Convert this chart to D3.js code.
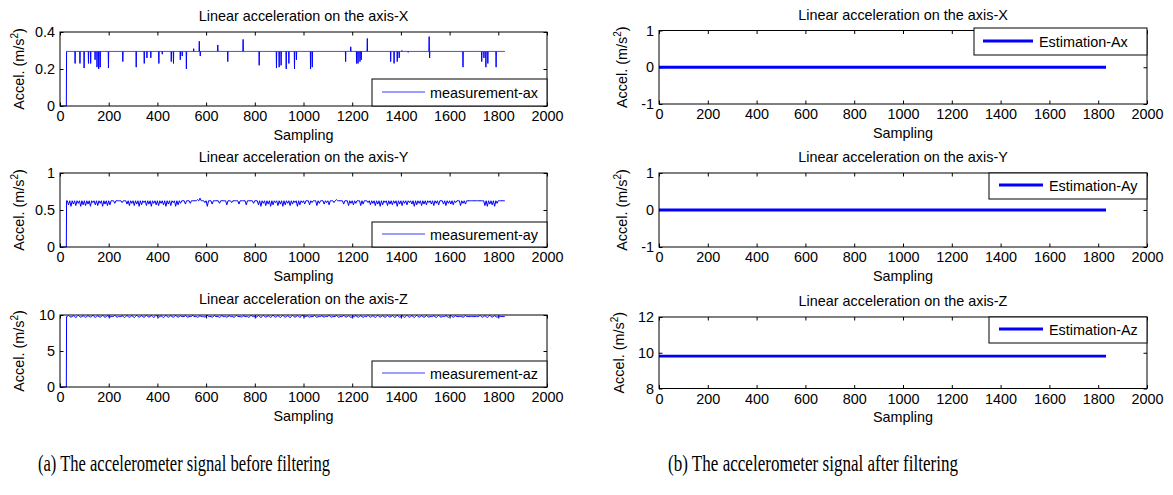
<!DOCTYPE html>
<html>
<head>
<meta charset="utf-8">
<script src="https://d3js.org/d3.v7.min.js"></script>
<style>
  body { margin: 0; background: #fff; }
  #fig text { font-family: "Liberation Sans", Arial, sans-serif; font-size: 14.4px; fill: #000; }
  #fig text.caption { font-family: "Liberation Serif", "Times New Roman", serif; font-size: 23px; }
</style>
</head>
<body>
<svg id="fig" width="1173" height="495"></svg>
<script>
// ---- data ----
var nSamples = 1828;      // last sample drawn on the left
var startIdx = 27;        // signal is 0 before this sample
var xTicks = [0, 200, 400, 600, 800, 1000, 1200, 1400, 1600, 1800, 2000];

// ax: flat level with single-sample spikes [sample, value]
var axBase = 0.295;
var axSpikes = [[62,.23],[82,.23],[99,.205],[117,.23],[126,.23],[144,.25],[152,.21],[159,.2],[165,.21],
  [199,.205],[258,.24],[313,.21],[346,.23],[357,.26],[373,.26],[406,.23],[420,.28],[457,.24],[466,.23],
  [494,.25],[502,.27],[519,.2],[549,.31],[572,.35],[576,.27],[648,.33],[689,.24],[752,.36],[818,.22],
  [889,.205],[900,.21],[908,.22],[929,.2],[940,.23],[963,.2],[971,.25],[1029,.2],[1036,.21],[1173,.24],
  [1194,.32],[1218,.23],[1224,.23],[1232,.24],[1237,.25],[1262,.365],[1358,.24],[1372,.23],[1385,.24],
  [1393,.26],[1404,.3],[1430,.29],[1516,.375],[1518,.26],[1655,.21],[1732,.24],[1741,.26],[1749,.21],
  [1757,.23],[1791,.21]];

// ay: level 0.625, one dip per 10-sample bin (bin min)
var ayBase = 0.625;
var ayBins = [
  0,0,0,.57,.55,.58,.56,.59,.55,.57,
  .56,.58,.55,.6,.57,.56,.59,.55,.58,.56,
  .57,.625,.59,.625,.625,.6,.625,.58,.56,.59,
  .56,.58,.55,.57,.6,.56,.58,.55,.59,.57,
  .56,.59,.57,.55,.58,.56,.6,.55,.57,.59,
  .625,.58,.625,.59,.625,.625,.64,.66,.625,.6,
  .55,.625,.58,.625,.625,.59,.625,.625,.57,.625,
  .6,.625,.625,.58,.625,.625,.57,.625,.625,.59,
  .625,.57,.55,.59,.56,.58,.55,.57,.6,.56,
  .58,.55,.57,.59,.56,.58,.6,.55,.57,.6,
  .58,.625,.57,.6,.625,.56,.59,.625,.58,.6,
  .57,.625,.6,.64,.625,.625,.58,.625,.56,.59,
  .57,.59,.625,.56,.58,.625,.6,.57,.59,.56,
  .58,.55,.57,.6,.56,.58,.57,.59,.55,.58,
  .56,.59,.57,.6,.58,.55,.57,.59,.56,.58,
  .57,.6,.58,.56,.59,.57,.625,.58,.56,.59,
  .58,.57,.6,.625,.56,.59,.58,.625,.625,.625,
  .625,.625,.625,.625,.56,.55,.58,.57,.55,.59,
  .625,.625,.625];

// az: level 9.78, one value per 10-sample bin
var azBase = 9.78;
var azBins = [
  0,0,0,9.95,9.7,9.9,9.65,9.95,9.7,9.9,
  9.68,9.92,9.72,9.98,9.66,9.9,9.7,9.96,9.68,9.9,
  9.72,9.78,9.95,9.7,9.78,9.9,9.66,9.94,9.7,9.92,
  9.65,9.96,9.7,9.9,9.68,9.98,9.72,9.92,9.66,9.95,
  9.7,9.9,9.64,9.96,9.7,9.92,9.68,9.97,9.7,9.9,
  9.78,9.92,9.7,9.78,9.95,9.78,9.68,9.9,9.78,9.72,
  9.96,9.78,9.7,9.92,9.78,9.68,9.94,9.78,9.7,9.9,
  9.78,9.66,9.95,9.78,9.72,9.9,9.78,9.68,9.96,9.78,
  9.7,9.92,9.66,9.95,9.7,9.9,9.68,9.98,9.7,9.92,
  9.66,9.96,9.7,9.9,9.64,9.95,9.7,9.92,9.68,9.96,
  9.78,9.9,9.7,9.78,9.94,9.68,9.78,9.9,9.72,9.78,
  9.95,9.7,9.78,9.92,9.68,9.78,9.96,9.7,9.9,9.66,
  9.78,9.94,9.7,9.9,9.68,9.78,9.95,9.7,9.92,9.66,
  9.96,9.7,9.9,9.68,9.95,9.72,9.92,9.66,9.98,9.7,
  9.9,9.68,9.95,9.7,9.92,9.66,9.96,9.7,9.9,9.68,
  9.94,9.7,9.78,9.9,9.66,9.95,9.7,9.78,9.92,9.68,
  9.96,9.7,9.9,9.78,9.78,9.68,9.94,9.78,9.78,9.78,
  9.78,9.78,9.95,9.7,9.92,9.66,9.96,9.7,9.9,9.68,
  9.78,9.78,9.78];

// filtered estimates: constant lines up to estEnd
var estEnd = 1832;
var estValues = [0, 0, 9.81];

var titles = ["Linear acceleration on the axis-X", "Linear acceleration on the axis-Y", "Linear acceleration on the axis-Z"];
var leftNames = ["measurement-ax", "measurement-ay", "measurement-az"];
var rightNames = ["Estimation-Ax", "Estimation-Ay", "Estimation-Az"];
var leftYTicks = [[0, 0.2, 0.4], [0, 0.5, 1], [0, 5, 10]];
var rightYTicks = [[-1, 0, 1], [-1, 0, 1], [8, 10, 12]];
var captions = ["(a) The accelerometer signal before filtering", "(b) The accelerometer signal after filtering"];

// ---- build series ----
var axSeries = [];
for (var i = 0; i < nSamples; i++) axSeries.push([i, i < startIdx ? 0 : axBase]);
axSpikes.forEach(function (p) { axSeries[p[0]][1] = p[1]; });

// bins: level at each bin edge, bin value at the bin centre
function binSeries(base, bins) {
  var s = [[0, 0], [startIdx - 1, 0], [startIdx, base]];
  bins.forEach(function (v, b) {
    if (b < 3) return;
    s.push([b * 10, base]);
    if (b * 10 + 5 < nSamples) s.push([b * 10 + 5, v]);
  });
  s.push([nSamples - 1, base]);
  return s;
}
var leftSeries = [axSeries, binSeries(ayBase, ayBins), binSeries(azBase, azBins)];

// ---- layout ----
var panels = [
  {box: [60, 32, 547, 106],   leg: [372, 79, 547, 106],   legLine: [382, 425],  legText: 430,  ylab: -36.5},
  {box: [60, 173, 547, 247],  leg: [372, 222, 547, 247],  legLine: [382, 425],  legText: 430,  ylab: -36.5},
  {box: [60, 315, 547, 387],  leg: [372, 361, 547, 387],  legLine: [382, 425],  legText: 430,  ylab: -36.5},
  {box: [659, 30.5, 1147, 104], leg: [974, 28, 1147, 55],  legLine: [983, 1033], legText: 1039, ylab: -32},
  {box: [659, 173, 1147, 247], leg: [989, 173, 1147, 199], legLine: [999, 1043], legText: 1049, ylab: -32},
  {box: [659, 317, 1147, 388.5], leg: [989, 317, 1147, 343], legLine: [999, 1043], legText: 1049, ylab: -35}
];

var svg = d3.select("#fig");

function drawPanel(p, title, yTicks, series, legName, thick) {
  var x = d3.scaleLinear([0, 2000], [p.box[0], p.box[2]]);
  var y = d3.scaleLinear([yTicks[0], yTicks[yTicks.length - 1]], [p.box[3], p.box[1]]);
  var g = svg.append("g");
  var fmt = function (d) { return String(d); };

  g.append("g").attr("transform", "translate(0," + p.box[3] + ")")
    .call(d3.axisBottom(x).tickValues(xTicks).tickFormat(fmt).tickSizeInner(-3.5).tickSizeOuter(0).tickPadding(5));
  g.append("g").attr("transform", "translate(0," + p.box[1] + ")")
    .call(d3.axisTop(x).tickValues(xTicks).tickFormat("").tickSizeInner(-3.5).tickSizeOuter(0));
  g.append("g").attr("transform", "translate(" + p.box[0] + ",0)")
    .call(d3.axisLeft(y).tickValues(yTicks).tickFormat(fmt).tickSizeInner(-3.5).tickSizeOuter(0).tickPadding(5));
  g.append("g").attr("transform", "translate(" + p.box[2] + ",0)")
    .call(d3.axisRight(y).tickValues(yTicks).tickFormat("").tickSizeInner(-3.5).tickSizeOuter(0));
  g.selectAll(".domain").remove();
  g.selectAll(".tick line").attr("stroke", "#000");
  g.selectAll(".tick text").style("font-size", "14.4px").attr("fill", "#000");

  g.append("path")
    .datum(series)
    .attr("fill", "none")
    .attr("stroke", "#0000ff")
    .attr("stroke-width", thick ? 2.8 : 1)
    .attr("d", d3.line().x(function (d) { return x(d[0]); }).y(function (d) { return y(d[1]); }));

  g.append("rect")
    .attr("x", p.box[0]).attr("y", p.box[1])
    .attr("width", p.box[2] - p.box[0]).attr("height", p.box[3] - p.box[1])
    .attr("fill", "none").attr("stroke", "#000").attr("stroke-width", 1);

  // legend
  var cy = Math.round((p.leg[1] + p.leg[3]) / 2);
  g.append("rect")
    .attr("x", p.leg[0]).attr("y", p.leg[1])
    .attr("width", p.leg[2] - p.leg[0]).attr("height", p.leg[3] - p.leg[1])
    .attr("fill", "#fff").attr("stroke", "#000").attr("stroke-width", 1);
  g.append("line")
    .attr("x1", p.legLine[0]).attr("x2", p.legLine[1]).attr("y1", cy - 1).attr("y2", cy - 1)
    .attr("stroke", thick ? "#0000ff" : "#3c3cff").attr("stroke-width", thick ? 2.8 : 1);
  g.append("text").attr("x", p.legText).attr("y", cy + 5).text(legName);

  // titles and labels
  var cx = (p.box[0] + p.box[2]) / 2;
  g.append("text").attr("x", cx).attr("y", p.box[1] - 11).attr("text-anchor", "middle").text(title);
  g.append("text").attr("x", cx).attr("y", p.box[3] + 33.5).attr("text-anchor", "middle").text("Sampling");
  var yl = g.append("text")
    .attr("transform", "translate(" + (p.box[0] + p.ylab) + "," + ((p.box[1] + p.box[3]) / 2) + ") rotate(-90)")
    .attr("text-anchor", "middle");
  yl.append("tspan").text("Accel. (m/s");
  yl.append("tspan").attr("dy", -6).style("font-size", "10px").text("2");
  yl.append("tspan").attr("dy", 6).text(")");
}

for (var k = 0; k < 3; k++) {
  drawPanel(panels[k], titles[k], leftYTicks[k], leftSeries[k], leftNames[k], false);
  drawPanel(panels[k + 3], titles[k], rightYTicks[k], [[0, estValues[k]], [estEnd, estValues[k]]], rightNames[k], true);
}

svg.selectAll("text.caption")
  .data(captions)
  .join("text")
  .attr("class", "caption")
  .attr("x", function (d, i) { return i === 0 ? 38 : 668; })
  .attr("y", 471)
  .attr("textLength", function (d, i) { return i === 0 ? 292 : 290; })
  .attr("lengthAdjust", "spacingAndGlyphs")
  .text(function (d) { return d; });
</script>
</body>
</html>
